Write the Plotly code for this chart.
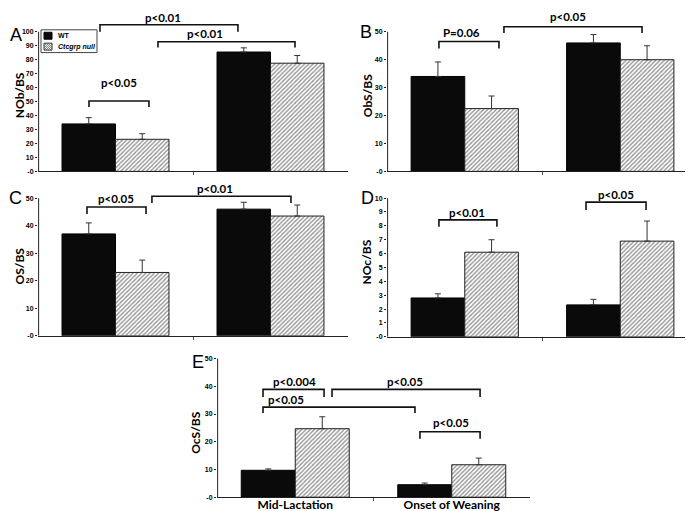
import plotly.graph_objects as go

W, H = 693, 511

# ---------------- data ----------------
groups = ["Mid-Lactation", "Onset of Weaning"]
series_names = ["WT", "Ctcgrp null"]

nob_wt, nob_wt_err = [34, 85.5], [4.5, 3.0]
nob_null, nob_null_err = [23, 77.5], [4.0, 5.5]

obs_wt, obs_wt_err = [34, 46], [5.2, 3.0]
obs_null, obs_null_err = [22.5, 40], [4.5, 5.0]

os_wt, os_wt_err = [37, 46], [4.0, 2.5]
os_null, os_null_err = [23, 43.5], [4.5, 4.0]

noc_wt, noc_wt_err = [2.8, 2.3], [0.3, 0.4]
noc_null, noc_null_err = [6.1, 6.9], [0.9, 1.45]

ocs_wt, ocs_wt_err = [9.7, 4.5], [0.5, 0.6]
ocs_null, ocs_null_err = [24.7, 11.7], [4.3, 2.4]

y_titles = ["NOb/BS", "ObS/BS", "OS/BS", "NOc/BS", "OcS/BS"]
panel_letters = ["A", "B", "C", "D", "E"]

ticks_A = [0, 10, 20, 30, 40, 50, 60, 70, 80, 90, 100]
ticks_B = [0, 10, 20, 30, 40, 50]
ticks_C = [0, 10, 20, 30, 40, 50]
ticks_D = [0, 1, 2, 3, 4, 5, 6, 7, 8, 9, 10]
ticks_E = [0, 10, 20, 30, 40, 50]

# significance brackets: (x0, x1, y, drop_to, label, label_x, label_y)
brackets_A = [(-0.171, 0.216, 50.4, 46.1, "p<0.05", 0.023, 63.8),
              (-0.10, 0.79, 105, 100, "p<0.01", 0.306, 110),
              (0.274, 1.158, 92.9, 88.7, "p<0.01", 0.577, 98.6)]
brackets_B = [(-0.166, 0.220, 46.5, 44.0, "P=0.06", -0.024, 49.8),
              (0.252, 1.140, 51.8, 49.6, "p<0.05", 0.664, 55.3)]
brackets_C = [(-0.184, 0.197, 46.8, 44.2, "p<0.05", 0.003, 49.9),
              (0.235, 1.132, 50.7, 48.2, "p<0.01", 0.642, 53.6)]
brackets_D = [(-0.166, 0.207, 8.43, 7.93, "p<0.01", 0.014, 8.95),
              (0.780, 1.166, 9.71, 9.14, "p<0.05", 0.973, 10.25)]
brackets_E = [(-0.206, 0.184, 38.9, 36.1, "p<0.004", -0.008, 41.8),
              (-0.206, 0.765, 32.5, 30.4, "p<0.05", -0.059, 35.2),
              (0.235, 1.181, 38.9, 36.1, "p<0.05", 0.701, 41.8),
              (0.797, 1.181, 23.6, 21.1, "p<0.05", 0.995, 26.9)]

# ---------------- layout geometry (pixels) ----------------
panels = [
    dict(data=(nob_wt, nob_wt_err, nob_null, nob_null_err), ticks=ticks_A, br=brackets_A,
         xl=30, xr=340, y0=163, s=1.41, rmax=111, amax=100,
         letter=(8, 25), title=(11, 86), xlabels=False),
    dict(data=(obs_wt, obs_wt_err, obs_null, obs_null_err), ticks=ticks_B, br=brackets_B,
         xl=379, xr=690, y0=163, s=2.82, rmax=56, amax=50,
         letter=(358, 22), title=(359, 87), xlabels=False),
    dict(data=(os_wt, os_wt_err, os_null, os_null_err), ticks=ticks_C, br=brackets_C,
         xl=30, xr=340, y0=329, s=2.78, rmax=54.5, amax=50,
         letter=(7, 190), title=(11, 259), xlabels=False),
    dict(data=(noc_wt, noc_wt_err, noc_null, noc_null_err), ticks=ticks_D, br=brackets_D,
         xl=379, xr=690, y0=330, s=14.0, rmax=10.5, amax=10,
         letter=(359, 190), title=(359, 255), xlabels=False),
    dict(data=(ocs_wt, ocs_wt_err, ocs_null, ocs_null_err), ticks=ticks_E, br=brackets_E,
         xl=209, xr=522, y0=492, s=2.8, rmax=50.5, amax=50,
         letter=(190, 355), title=(188, 427), xlabels=True),
]

BOLD = "Lato"
fig = go.Figure()
shapes = []
annotations = []
xs = [0, 1]

for i, p in enumerate(panels):
    n = "" if i == 0 else str(i + 1)
    xa, ya = "x" + n, "y" + n
    wt, wte, nu, nue = p["data"]
    fig.add_trace(go.Bar(
        x=xs, y=wt, name=series_names[0], xaxis=xa, yaxis=ya,
        marker=dict(color="#0a0a0a", line=dict(color="black", width=1)),
        error_y=dict(type="data", symmetric=False, array=wte, arrayminus=[0, 0],
                     color="#333333", thickness=1, width=3),
        showlegend=False))
    fig.add_trace(go.Bar(
        x=xs, y=nu, name=series_names[1], xaxis=xa, yaxis=ya,
        marker=dict(color="white", line=dict(color="#222222", width=1),
                    pattern=dict(shape="/", fgcolor="#2a2a2a", bgcolor="white",
                                 size=3, solidity=0.45)),
        error_y=dict(type="data", symmetric=False, array=nue, arrayminus=[0, 0],
                     color="#333333", thickness=1, width=3),
        showlegend=False))

    top_px = p["y0"] - p["rmax"] * p["s"]
    xdom = [p["xl"] / W, p["xr"] / W]
    ydom = [(H - p["y0"]) / H, (H - top_px) / H]
    tickfont = dict(family="Liberation Sans", size=7, color="black", weight="bold")
    xaxis = dict(domain=xdom, anchor=ya, range=[-0.5, 1.5],
                 tickvals=xs, ticktext=groups if p["xlabels"] else ["", ""],
                 ticks="", showline=True, linecolor="#222222", linewidth=1,
                 showgrid=False, zeroline=False, fixedrange=True,
                 ticklabelstandoff=-4,
                 tickfont=dict(family=BOLD, size=12, color="black", weight="bold"),
                 minor=dict(tickmode="array", tickvals=[0.5], ticks="outside",
                            ticklen=3, tickcolor="#555555"))
    yaxis = dict(domain=ydom, anchor=xa, range=[0, p["rmax"]],
                 tickvals=p["ticks"],
                 ticktext=["-0"] + [str(t) for t in p["ticks"][1:]],
                 ticks="outside", ticklen=2, tickcolor="#222222",
                 showline=False, showgrid=False, zeroline=False,
                 tickfont=tickfont, fixedrange=True)
    fig.update_layout({"xaxis" + n: xaxis, "yaxis" + n: yaxis})

    # y-axis line, stopping at the highest tick
    shapes.append(dict(type="line", xref=xa + " domain", yref=ya,
                       x0=0.002, x1=0.002, y0=0, y1=p["amax"],
                       line=dict(color="#222222", width=1)))

    for (bx0, bx1, by, bd, lab, lx, ly) in p["br"]:
        shapes.append(dict(type="path", xref=xa, yref=ya,
                           path=f"M {bx0},{bd} L {bx0},{by} L {bx1},{by} L {bx1},{bd}",
                           line=dict(color="#111111", width=1.6)))
        annotations.append(dict(xref=xa, yref=ya, x=lx, y=ly, text=lab.replace("<", "&lt;"),
                                showarrow=False, xanchor="center", yanchor="middle",
                                font=dict(family=BOLD, size=11.5, color="black", weight="bold")))

    lx, ly = p["letter"]
    annotations.append(dict(xref="paper", yref="paper", x=lx / W, y=1 - ly / H,
                            text=panel_letters[i], showarrow=False,
                            xanchor="center", yanchor="middle",
                            font=dict(family="Liberation Sans", size=18, color="black")))
    tx, ty = p["title"]
    annotations.append(dict(xref="paper", yref="paper", x=tx / W, y=1 - ty / H,
                            text=y_titles[i], showarrow=False, textangle=-90,
                            xanchor="center", yanchor="middle",
                            font=dict(family=BOLD, size=12, color="black", weight="bold")))

# ---------------- legend (drawn as a small key in panel A) ----------------
def px(x):
    return x / W


def py(y):
    return 1 - y / H


shapes.append(dict(type="rect", xref="paper", yref="paper",
                   x0=px(33), x1=px(89), y0=py(20), y1=py(43),
                   line=dict(color="#444444", width=1), fillcolor="white"))
shapes.append(dict(type="rect", xref="paper", yref="paper",
                   x0=px(36), x1=px(44), y0=py(22.5), y1=py(29.5),
                   line=dict(color="black", width=1), fillcolor="#0a0a0a"))
shapes.append(dict(type="rect", xref="paper", yref="paper",
                   x0=px(36), x1=px(44), y0=py(33.5), y1=py(40.5),
                   line=dict(color="#333333", width=1), fillcolor="white"))
hatch = []
for k in range(-6, 9, 2):
    a0, a1 = max(0, k), min(8, 7 + k)
    if a1 <= a0:
        continue
    hatch.append(f"M {px(36 + a0)},{py(40.5 - (a0 - k))} L {px(36 + a1)},{py(40.5 - (a1 - k))}")
shapes.append(dict(type="path", xref="paper", yref="paper", path=" ".join(hatch),
                   line=dict(color="#555555", width=0.8)))
annotations.append(dict(xref="paper", yref="paper", x=px(48), y=py(26), text="WT",
                        showarrow=False, xanchor="left", yanchor="middle",
                        font=dict(family="Liberation Sans", size=7, color="black", weight="bold")))
annotations.append(dict(xref="paper", yref="paper", x=px(48), y=py(37),
                        text="<i>" + series_names[1] + "</i>",
                        showarrow=False, xanchor="left", yanchor="middle",
                        font=dict(family="Liberation Sans", size=7, color="black", weight="bold")))

fig.update_layout(
    width=W, height=H, margin=dict(l=0, r=0, t=0, b=0),
    paper_bgcolor="white", plot_bgcolor="white",
    barmode="group", bargap=0.31, bargroupgap=0,
    shapes=shapes, annotations=annotations, showlegend=False,
)

fig.write_html("out.html")
